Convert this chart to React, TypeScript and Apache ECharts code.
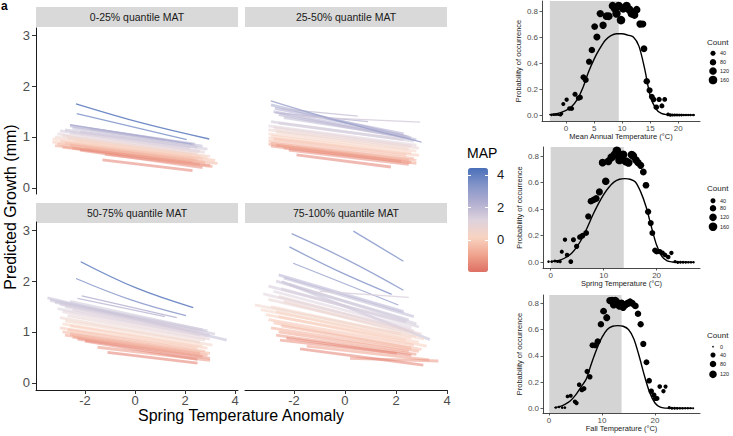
import React, { useEffect, useRef } from 'react';
import * as echarts from 'echarts';

const FONT = '"Liberation Sans", Arial, Helvetica, sans-serif';

const FACET_TITLES = ['0-25% quantile MAT', '25-50% quantile MAT', '50-75% quantile MAT', '75-100% quantile MAT'];
const X_TICKS_ANOM = [-2, 0, 2, 4];
const Y_TICKS_GROWTH = [0, 1, 2, 3];
const MAP_TICKS = [0, 2, 4];
const PROB_TICKS = [0, 0.2, 0.4, 0.6, 0.8];
const MAT_TICKS = [0, 5, 10, 15, 20];
const SEASON_TICKS = [0, 10, 20];
const MAP_COLORS = ['#de6f63', '#f0a48f', '#f8d3c1', '#ddd2dd', '#b1aed0', '#8495c9', '#4a6fb9'];

// band lines (many overlapping sites): [MAP, x0, y0, x1, y1]
const LINES_Q1 = [
  [2.3, -2.6, 1.22, 2.4, 0.86],
  [2.0, -2.5, 1.18, 2.7, 0.82],
  [1.9, -1.8, 1.16, 1.2, 0.94],
  [1.8, -2.8, 1.14, 2.5, 0.8],
  [1.6, -2.2, 1.1, 2.9, 0.76],
  [1.5, -3.0, 1.12, 2.2, 0.78],
  [1.3, -2.6, 1.08, 2.6, 0.72],
  [1.0, -3.1, 1.06, 2.8, 0.7],
  [0.8, -2.9, 1.02, 2.5, 0.68],
  [0.6, -3.2, 1.0, 2.3, 0.66],
  [0.4, -2.7, 0.98, 3.0, 0.62],
  [0.3, -3.3, 0.96, 2.6, 0.62],
  [0.2, -2.4, 0.93, 2.9, 0.6],
  [0.0, -3.0, 0.92, 2.7, 0.58],
  [-0.1, -3.3, 0.9, 2.4, 0.57],
  [-0.3, -2.8, 0.88, 3.2, 0.54],
  [-0.4, -3.1, 0.86, 2.5, 0.54],
  [-0.5, -2.0, 0.78, 3.3, 0.48],
  [-0.6, -2.6, 0.84, 2.8, 0.5],
  [-0.8, -3.2, 0.83, 2.3, 0.5],
  [-1.0, -2.9, 0.8, 2.6, 0.46],
  [-1.0, -1.2, 0.66, 3.1, 0.42],
  [-1.2, -2.5, 0.78, 3.0, 0.44],
  [-1.4, -2.2, 0.74, 2.7, 0.4],
  [-1.6, -1.3, 0.55, 2.3, 0.34],
];
// isolated straight lines: [MAP, x0, y0, x1, y1]
const SINGLE_Q1 = [
  [3.6, -2.33, 1.46, 2.07, 0.95],
  [2.5, -2.6, 1.24, 2.3, 0.86],
];
// isolated curved lines: [MAP, x0, y0, xm, ym, x1, y1]
const CURVES_Q1 = [[4.2, -2.36, 1.65, 0.31, 1.27, 2.97, 0.96]];

const LINES_Q2 = [
  [2.6, -2.9, 1.63, 2.4, 1.01],
  [2.4, -2.75, 1.56, 2.3, 1.06],
  [2.2, -2.8, 1.5, 2.6, 0.98],
  [2.1, -2.6, 1.44, 2.8, 0.95],
  [1.9, -2.4, 1.38, 2.5, 1.0],
  [1.6, -2.9, 1.3, 2.7, 0.92],
  [1.4, -2.6, 1.27, 2.3, 0.95],
  [1.1, -3.0, 1.22, 2.8, 0.84],
  [0.9, -2.8, 1.18, 2.6, 0.82],
  [0.7, -3.0, 1.14, 2.9, 0.78],
  [0.5, -2.7, 1.1, 2.5, 0.76],
  [0.3, -3.0, 1.06, 2.8, 0.72],
  [0.1, -2.9, 1.02, 2.6, 0.68],
  [0.0, -3.0, 0.98, 2.9, 0.64],
  [-0.2, -2.8, 0.96, 2.4, 0.64],
  [-0.4, -3.0, 0.92, 2.7, 0.58],
  [-0.6, -2.9, 0.88, 2.8, 0.54],
  [-0.8, -3.0, 0.86, 2.5, 0.54],
  [-0.9, -2.4, 0.78, 2.8, 0.48],
  [-1.0, -2.7, 0.84, 2.6, 0.5],
  [-1.2, -2.9, 0.82, 2.2, 0.52],
  [-1.4, -2.2, 0.74, 2.5, 0.46],
  [-1.6, -1.9, 0.65, 1.8, 0.41],
];
const SINGLE_Q2 = [
  [2.0, -2.75, 1.48, 0.9, 1.3],
  [1.8, -2.5, 1.55, 0.5, 1.41],
  [1.5, -1.8, 1.4, 2.95, 1.29],
];
const CURVES_Q2 = [[2.8, -2.91, 1.71, 0.07, 1.27, 3.0, 0.9]];

const LINES_Q3 = [
  [1.9, -3.5, 1.67, 3.67, 0.84],
  [1.8, -3.4, 1.62, 2.9, 1.02],
  [1.7, -3.2, 1.58, 3.2, 0.96],
  [1.6, -2.6, 1.6, 2.7, 1.04],
  [1.5, -3.0, 1.54, 3.0, 0.94],
  [1.4, -2.8, 1.5, 2.5, 1.0],
  [1.3, -3.1, 1.46, 2.9, 0.92],
  [1.2, -2.5, 1.44, 2.6, 0.94],
  [1.0, -2.9, 1.4, 3.0, 0.86],
  [0.8, -2.7, 1.32, 2.8, 0.84],
  [0.6, -3.0, 1.28, 2.6, 0.8],
  [0.4, -2.8, 1.22, 3.1, 0.74],
  [0.2, -2.9, 1.16, 2.7, 0.72],
  [0.1, -2.6, 1.12, 2.9, 0.68],
  [-0.1, -3.0, 1.08, 2.5, 0.68],
  [-0.3, -2.7, 1.04, 2.8, 0.62],
  [-0.5, -2.9, 1.0, 3.0, 0.58],
  [-0.7, -2.6, 0.96, 2.6, 0.58],
  [-0.9, -2.8, 0.94, 2.9, 0.54],
  [-1.1, -2.5, 0.9, 2.7, 0.52],
  [-1.2, -1.5, 0.7, 3.0, 0.44],
  [-1.3, -2.3, 0.86, 3.0, 0.48],
  [-1.5, -2.0, 0.82, 2.5, 0.46],
  [-1.7, -1.1, 0.6, 2.5, 0.39],
];
const SINGLE_Q3 = [
  [2.3, -2.13, 1.71, 1.67, 1.28],
  [2.1, -2.3, 1.66, 1.2, 1.3],
];
const CURVES_Q3 = [
  [4.2, -2.17, 2.38, 0.07, 1.86, 2.33, 1.48],
  [3.3, -2.36, 2.05, -0.16, 1.63, 2.04, 1.32],
];

const LINES_Q4 = [
  [2.2, -2.6, 2.12, 2.3, 1.4],
  [2.0, -2.4, 2.06, 2.7, 1.3],
  [1.9, -2.48, 1.99, 3.33, 0.85],
  [1.7, -2.7, 2.0, 2.5, 1.24],
  [1.6, -2.2, 1.94, 2.8, 1.16],
  [1.5, -3.0, 1.9, 2.4, 1.2],
  [1.4, -2.5, 1.85, 2.9, 1.1],
  [1.2, -2.8, 1.8, 2.6, 1.08],
  [1.1, -3.2, 1.75, 2.7, 1.02],
  [0.9, -2.6, 1.7, 3.0, 0.96],
  [0.8, -3.0, 1.64, 2.5, 1.0],
  [0.6, -2.4, 1.6, 2.8, 0.92],
  [0.5, -3.53, 1.53, 2.2, 0.96],
  [0.4, -2.9, 1.5, 3.1, 0.86],
  [0.3, -3.3, 1.44, 2.6, 0.88],
  [0.2, -2.7, 1.4, 2.9, 0.8],
  [0.1, -3.1, 1.34, 2.4, 0.84],
  [0.0, -2.6, 1.3, 3.2, 0.72],
  [-0.2, -3.0, 1.24, 2.7, 0.74],
  [-0.3, -2.8, 1.18, 3.0, 0.66],
  [-0.5, -2.5, 1.12, 2.6, 0.68],
  [-0.7, -2.9, 1.08, 2.9, 0.62],
  [-0.9, -2.6, 1.0, 2.5, 0.62],
  [-1.0, -1.5, 0.72, 3.3, 0.45],
  [-1.1, -2.7, 0.94, 2.8, 0.56],
  [-1.2, 0.2, 0.48, 3.66, 0.43],
  [-1.3, -2.55, 0.84, 2.03, 0.58],
  [-1.5, -2.3, 0.88, 2.6, 0.54],
  [-1.6, -1.76, 0.67, 3.07, 0.35],
];
const SINGLE_Q4 = [
  [3.5, 0.33, 2.98, 2.29, 2.39],
  [2.9, -2.03, 2.35, 2.09, 1.53],
  [1.3, -1.0, 1.8, 2.5, 1.68],
];
const CURVES_Q4 = [
  [3.2, -2.09, 2.93, 0.07, 2.42, 2.29, 1.82],
  [3.3, -2.18, 2.67, -0.2, 2.18, 1.83, 1.74],
];

// [temperature, probability, count]
const MAT_POINTS = [
  [-2.6, 0, 3], [-2.2, 0.002, 4], [-1.8, 0.003, 5], [-1.4, 0.004, 6], [-1.0, 0, 8], [-0.8, 0.01, 10],
  [-0.5, 0.085, 20], [0.1, 0.118, 25], [0.6, 0.05, 30], [1.0, 0.05, 35], [1.6, 0.16, 40], [2.2, 0.13, 45],
  [2.5, 0.135, 50], [3.1, 0.29, 60], [3.5, 0.27, 65], [4.1, 0.41, 70], [4.6, 0.5, 80], [5.1, 0.68, 90],
  [5.5, 0.6, 100], [6.1, 0.78, 110], [6.6, 0.69, 110], [7.2, 0.76, 120], [7.6, 0.76, 130], [8.3, 0.84, 130],
  [8.7, 0.82, 140], [9.0, 0.78, 150], [9.4, 0.84, 150], [9.8, 0.73, 160], [10.2, 0.82, 160], [10.8, 0.84, 150],
  [11.3, 0.81, 150], [11.7, 0.78, 140], [12.2, 0.77, 130], [12.6, 0.81, 120], [13.2, 0.7, 110], [13.7, 0.7, 100],
  [13.9, 0.51, 90], [14.4, 0.26, 80], [14.9, 0.19, 70], [15.3, 0.14, 60], [15.6, 0.12, 55], [16.1, 0.06, 50],
  [16.6, 0.12, 45], [17.1, 0.07, 40], [17.6, 0.12, 35],
  [18.2, 0.005, 15], [18.6, 0, 10], [19.0, 0, 8], [19.4, 0, 6], [19.8, 0, 5], [20.2, 0, 4], [20.6, 0, 4],
  [21.0, 0, 3], [21.4, 0, 3], [21.8, 0, 2], [22.2, 0, 2], [22.7, 0, 2],
];
const SPRING_POINTS = [
  [-0.4, 0.005, 3], [0.2, 0.005, 4], [0.8, 0.01, 5], [1.3, 0.005, 6], [1.8, 0.005, 8],
  [2.1, 0.08, 20], [2.7, 0.17, 25], [3.1, 0.055, 30], [3.8, 0.005, 35], [4.3, 0.17, 40], [4.9, 0.12, 45],
  [5.5, 0.19, 50], [6.0, 0.2, 55], [6.7, 0.22, 60], [7.1, 0.345, 70], [7.6, 0.46, 80], [8.1, 0.47, 85],
  [8.6, 0.48, 90], [9.2, 0.53, 100], [9.8, 0.75, 120], [10.4, 0.61, 120], [10.9, 0.76, 130], [11.5, 0.79, 140],
  [12.1, 0.81, 150], [12.5, 0.84, 160], [13.0, 0.77, 160], [13.4, 0.8, 160], [13.7, 0.81, 150], [14.2, 0.76, 150],
  [14.7, 0.75, 140], [15.3, 0.81, 140], [15.6, 0.8, 130], [16.1, 0.77, 120], [16.5, 0.75, 110], [17.0, 0.73, 100],
  [17.5, 0.68, 90], [18.0, 0.58, 85], [18.4, 0.38, 75], [18.9, 0.295, 65], [19.2, 0.22, 60], [19.7, 0.09, 55],
  [20.0, 0.08, 50], [20.6, 0.08, 45], [21.1, 0.07, 40], [21.6, 0.055, 35], [22.2, 0.04, 30], [22.8, 0.07, 25],
  [23.5, 0.005, 10], [24.0, 0, 8], [24.5, 0, 6], [25.0, 0, 5], [25.5, 0, 4], [26.0, 0, 3], [26.5, 0, 3], [27.0, 0, 2],
];
const FALL_POINTS = [
  [1.3, 0.005, 2], [1.9, 0.01, 3], [2.5, 0.005, 4], [3.0, 0.005, 5],
  [3.5, 0.09, 15], [4.1, 0.095, 20], [4.9, 0.05, 25], [5.2, 0.04, 25], [5.7, 0.18, 30], [6.2, 0.14, 35],
  [6.6, 0.15, 40], [7.2, 0.28, 45], [7.7, 0.24, 50], [8.2, 0.48, 60], [8.7, 0.48, 65], [9.2, 0.51, 70],
  [9.8, 0.64, 80], [10.3, 0.74, 90], [10.9, 0.69, 100], [11.5, 0.82, 110], [11.9, 0.82, 120], [12.2, 0.79, 120],
  [12.5, 0.82, 120], [12.8, 0.81, 120], [13.3, 0.78, 120], [13.7, 0.8, 120], [14.0, 0.77, 110], [14.5, 0.79, 110],
  [14.9, 0.8, 110], [15.3, 0.81, 100], [15.7, 0.8, 100], [16.3, 0.78, 90], [16.8, 0.72, 80], [17.3, 0.64, 75],
  [17.8, 0.49, 70], [18.4, 0.35, 60], [18.9, 0.21, 55], [19.3, 0.13, 50], [19.8, 0.1, 45], [20.1, 0.075, 40],
  [20.4, 0.075, 35], [20.9, 0.165, 30], [21.6, 0.13, 25], [22.0, 0.165, 20],
  [22.7, 0.005, 8], [23.2, 0, 6], [23.7, 0, 5], [24.2, 0, 4], [24.7, 0, 3], [25.2, 0, 3], [25.7, 0, 2],
  [26.2, 0, 2], [26.7, 0, 1], [27.2, 0, 1],
];

// fitted curves [temperature, probability]
const MAT_CURVE = [
  [-3, 0.003], [-2, 0.008], [-1, 0.018], [0, 0.035], [1, 0.065], [2, 0.12], [3, 0.21], [4, 0.33], [5, 0.43],
  [6, 0.51], [7, 0.575], [8, 0.61], [9, 0.625], [10, 0.625], [11, 0.615], [12, 0.6], [13, 0.53], [14, 0.36],
  [15, 0.15], [16, 0.05], [17, 0.012], [18, 0.002], [19, 0], [23, 0],
];
const SPRING_CURVE = [
  [0, 0.005], [1, 0.01], [2, 0.02], [3, 0.04], [4, 0.07], [5, 0.12], [6, 0.185], [7, 0.27], [8, 0.36], [9, 0.44],
  [10, 0.51], [11, 0.565], [12, 0.605], [13, 0.625], [14, 0.63], [15, 0.625], [16, 0.605], [17, 0.53], [18, 0.42],
  [19, 0.27], [20, 0.13], [21, 0.045], [22, 0.01], [23, 0.002], [24, 0], [27, 0],
];
const FALL_CURVE = [
  [1, 0.005], [2, 0.012], [3, 0.03], [4, 0.055], [5, 0.1], [6, 0.16], [7, 0.22], [8, 0.34], [9, 0.45], [10, 0.54],
  [11, 0.6], [12, 0.625], [13, 0.63], [14, 0.625], [15, 0.6], [16, 0.53], [17, 0.4], [18, 0.25], [19, 0.12],
  [20, 0.04], [21, 0.008], [22, 0.001], [23, 0], [27, 0],
];
const SHADE_RANGES = [[-2.9, 9.4], [0, 13.8], [0.05, 13.7]];
const X_TITLES = ['Mean Annual Temperature (°C)', 'Spring Temperature (°C)', 'Fall Temperature (°C)'];
const LEGEND_COUNTS = [[40, 80, 120, 160], [40, 80, 120, 160], [0, 40, 80, 120]];

const sizeOf = (c: number) => 1.6 + 0.55 * Math.sqrt(c);

const makeStraight = (lineWidth: number, opacity: number) => (params: any, api: any) => {
  const p0 = api.coord([api.value(1), api.value(2)]);
  const p1 = api.coord([api.value(3), api.value(4)]);
  return {
    type: 'line',
    shape: { x1: p0[0], y1: p0[1], x2: p1[0], y2: p1[1] },
    style: { stroke: api.visual('color'), lineWidth, opacity, lineCap: 'butt' },
  };
};
const renderCurve = (params: any, api: any) => {
  const p0 = api.coord([api.value(1), api.value(2)]);
  const pm = api.coord([api.value(3), api.value(4)]);
  const p1 = api.coord([api.value(5), api.value(6)]);
  return {
    type: 'polyline',
    shape: { points: [p0, pm, p1], smooth: 0.4 },
    style: { stroke: api.visual('color'), fill: 'none', lineWidth: 1.3, opacity: 0.85 },
  };
};

export default function App() {
  const ref = useRef<HTMLDivElement>(null);
  useEffect(() => {
    if (!ref.current) return;
    const chart = echarts.init(ref.current, undefined, { renderer: 'svg' });

    const leftGrids = [
      { left: 36, top: 28, width: 202, height: 166 },
      { left: 245, top: 28, width: 202, height: 166 },
      { left: 36, top: 222, width: 202, height: 168 },
      { left: 245, top: 222, width: 202, height: 168 },
    ];
    const rightGrids = [
      { left: 542, top: 1, width: 158, height: 120 },
      { left: 543, top: 147, width: 157, height: 121 },
      { left: 543, top: 295, width: 157, height: 118 },
    ];
    const cbGrid = { left: 468, top: 168, width: 20, height: 104 };
    const grids = [...leftGrids, ...rightGrids, cbGrid].map((g) => ({ ...g, outerBoundsMode: 'none' }));

    const leftX = [[-3.96, 4.12], [-3.92, 4.0], [-3.96, 4.12], [-3.92, 4.0]];
    const leftY = [[-0.12, 3.14], [-0.12, 3.14], [-0.14, 3.16], [-0.14, 3.16]];
    const rightX = [[-4.3, 23.9], [-1.45, 28.2], [-1.13, 28.5]];
    const rightY = [[-0.046, 0.877], [-0.043, 0.868], [-0.036, 0.863]];

    const xAxis: any[] = [];
    const yAxis: any[] = [];
    for (let i = 0; i < 4; i++) {
      const showX = i >= 2;
      const showY = i === 0 || i === 2;
      xAxis.push({
        type: 'value', gridIndex: i, min: leftX[i][0], max: leftX[i][1], show: showX, position: 'bottom',
        splitLine: { show: false },
        axisLine: { show: true, onZero: false, lineStyle: { color: '#1a1a1a', width: 1 } },
        axisTick: { show: true, length: 4, customValues: X_TICKS_ANOM, lineStyle: { color: '#333' } },
        axisLabel: { customValues: X_TICKS_ANOM, fontSize: 13, color: '#4d4d4d', fontFamily: FONT, margin: 4 },
      });
      yAxis.push({
        type: 'value', gridIndex: i, min: leftY[i][0], max: leftY[i][1], show: showY, position: 'left',
        splitLine: { show: false },
        axisLine: { show: true, onZero: false, lineStyle: { color: '#1a1a1a', width: 1 } },
        axisTick: { show: true, length: 4, customValues: Y_TICKS_GROWTH, lineStyle: { color: '#333' } },
        axisLabel: { customValues: Y_TICKS_GROWTH, fontSize: 13, color: '#4d4d4d', fontFamily: FONT, margin: 6 },
      });
    }
    for (let j = 0; j < 3; j++) {
      xAxis.push({
        type: 'value', gridIndex: 4 + j, min: rightX[j][0], max: rightX[j][1], position: 'bottom',
        name: X_TITLES[j], nameLocation: 'middle', nameGap: 11,
        nameTextStyle: { fontSize: 7.5, color: '#1a1a1a', fontFamily: FONT },
        splitLine: { show: false },
        axisLine: { onZero: false, lineStyle: { color: '#1a1a1a', width: 0.8 } },
        axisTick: { length: 2.5, customValues: j === 0 ? MAT_TICKS : SEASON_TICKS, lineStyle: { color: '#333', width: 0.8 } },
        axisLabel: { customValues: j === 0 ? MAT_TICKS : SEASON_TICKS, fontSize: 8, color: '#4d4d4d', fontFamily: FONT, margin: 3 },
      });
      yAxis.push({
        type: 'value', gridIndex: 4 + j, min: rightY[j][0], max: rightY[j][1], position: 'left',
        name: 'Probability of occurrence', nameLocation: 'middle', nameGap: 12,
        nameTextStyle: { fontSize: 7.5, color: '#1a1a1a', fontFamily: FONT },
        splitLine: { show: false },
        axisLine: { show: true, onZero: false, lineStyle: { color: '#1a1a1a', width: 0.8 } },
        axisTick: { show: true, length: 2.5, customValues: PROB_TICKS, lineStyle: { color: '#333', width: 0.8 } },
        axisLabel: { customValues: PROB_TICKS, formatter: (v: number) => v.toFixed(1), fontSize: 8, color: '#4d4d4d', fontFamily: FONT, margin: 4 },
      });
    }
    // colourbar axes
    xAxis.push({ type: 'value', gridIndex: 7, min: 0, max: 1, show: false });
    yAxis.push({
      type: 'value', gridIndex: 7, min: -1.97, max: 4.43, position: 'right', z: 10,
      splitLine: { show: false }, axisLine: { show: false, onZero: false },
      axisTick: { show: true, inside: true, length: 3, customValues: MAP_TICKS, lineStyle: { color: '#ffffff', width: 1 } },
      axisLabel: { customValues: MAP_TICKS, fontSize: 13, color: '#1a1a1a', fontFamily: FONT, margin: 9 },
    });
    yAxis.push({
      type: 'value', gridIndex: 7, min: -1.97, max: 4.43, position: 'left', z: 10,
      splitLine: { show: false }, axisLine: { show: false, onZero: false },
      axisTick: { show: true, inside: true, length: 3, customValues: MAP_TICKS, lineStyle: { color: '#ffffff', width: 1 } },
      axisLabel: { show: false },
    });

    const lineSets = [LINES_Q1, LINES_Q2, LINES_Q3, LINES_Q4];
    const singleSets = [SINGLE_Q1, SINGLE_Q2, SINGLE_Q3, SINGLE_Q4];
    const curveSets = [CURVES_Q1, CURVES_Q2, CURVES_Q3, CURVES_Q4];
    const series: any[] = [];
    const bandRender = makeStraight(2.8, 0.55);
    const singleRender = makeStraight(1.3, 0.8);
    for (let i = 0; i < 4; i++) {
      series.push({
        type: 'custom', xAxisIndex: i, yAxisIndex: i, data: lineSets[i], renderItem: bandRender,
        encode: { x: [1, 3], y: [2, 4] }, silent: true, z: 2,
      });
    }
    for (let i = 0; i < 4; i++) {
      series.push({
        type: 'custom', xAxisIndex: i, yAxisIndex: i, data: singleSets[i], renderItem: singleRender,
        encode: { x: [1, 3], y: [2, 4] }, silent: true, z: 3,
      });
    }
    for (let i = 0; i < 4; i++) {
      series.push({
        type: 'custom', xAxisIndex: i, yAxisIndex: i, data: curveSets[i], renderItem: renderCurve,
        encode: { x: [1, 3, 5], y: [2, 4, 6] }, silent: true, z: 3,
      });
    }
    const pointSets = [MAT_POINTS, SPRING_POINTS, FALL_POINTS];
    const curves = [MAT_CURVE, SPRING_CURVE, FALL_CURVE];
    for (let j = 0; j < 3; j++) {
      series.push({
        type: 'line', xAxisIndex: 4 + j, yAxisIndex: 4 + j, data: [], z: 1, silent: true,
        markArea: {
          silent: true, itemStyle: { color: '#d4d4d4', opacity: 1 },
          data: [[{ xAxis: SHADE_RANGES[j][0] }, { xAxis: SHADE_RANGES[j][1] }]],
        },
      });
      series.push({
        type: 'scatter', xAxisIndex: 4 + j, yAxisIndex: 4 + j, data: pointSets[j], z: 3, silent: true,
        symbolSize: (v: number[]) => sizeOf(v[2]),
        itemStyle: { color: '#000000', opacity: 1 },
      });
      series.push({
        type: 'line', xAxisIndex: 4 + j, yAxisIndex: 4 + j, data: curves[j], z: 4, silent: true,
        showSymbol: false, smooth: 0.3, lineStyle: { color: '#000000', width: 1.4 },
      });
    }

    const graphic: any[] = [];
    FACET_TITLES.forEach((t, i) => {
      const g = leftGrids[i];
      const top = i < 2 ? 7 : 203;
      graphic.push({ type: 'rect', shape: { x: g.left, y: top, width: 202, height: 20 }, style: { fill: '#d9d9d9' }, silent: true });
      graphic.push({
        type: 'text', x: g.left + 101, y: top + 10,
        style: { text: t, fontSize: 10.5, fontFamily: FONT, fill: '#1a1a1a', align: 'center', verticalAlign: 'middle' }, silent: true,
      });
    });
    graphic.push({ type: 'text', x: 1, y: 0, style: { text: 'a', fontSize: 12, fontWeight: 'bold', fontFamily: FONT, fill: '#000', verticalAlign: 'top' } });
    graphic.push({
      type: 'text', x: 10, y: 207, rotation: Math.PI / 2,
      style: { text: 'Predicted Growth (mm)', fontSize: 16, fontFamily: FONT, fill: '#000', align: 'center', verticalAlign: 'middle' },
    });
    graphic.push({
      type: 'text', x: 241, y: 415,
      style: { text: 'Spring Temperature Anomaly', fontSize: 16, fontFamily: FONT, fill: '#000', align: 'center', verticalAlign: 'middle' },
    });
    graphic.push({
      type: 'text', x: 467, y: 153,
      style: { text: 'MAP', fontSize: 14, fontFamily: FONT, fill: '#000', align: 'left', verticalAlign: 'middle' },
    });
    const legendTitleY = [42, 188, 335];
    const legendItemY = [[53.3, 62.3, 71, 80], [200.7, 208.3, 217.3, 226.7], [346.7, 355, 364, 374.3]];
    for (let j = 0; j < 3; j++) {
      graphic.push({
        type: 'text', x: 707, y: legendTitleY[j],
        style: { text: 'Count', fontSize: 8, fontFamily: FONT, fill: '#1a1a1a', align: 'left', verticalAlign: 'middle' },
      });
      LEGEND_COUNTS[j].forEach((c, k) => {
        graphic.push({ type: 'circle', shape: { cx: 713, cy: legendItemY[j][k], r: sizeOf(c) / 2 }, style: { fill: '#000' } });
        graphic.push({
          type: 'text', x: 720, y: legendItemY[j][k],
          style: { text: String(c), fontSize: 5.5, fontFamily: FONT, fill: '#1a1a1a', align: 'left', verticalAlign: 'middle' },
        });
      });
    }

    chart.setOption({
      animation: false,
      backgroundColor: '#ffffff',
      textStyle: { fontFamily: FONT },
      grid: grids,
      xAxis,
      yAxis,
      visualMap: {
        type: 'continuous', min: -1.97, max: 4.43, dimension: 0,
        seriesIndex: [0, 1, 2, 3, 4, 5, 6, 7, 8, 9, 10, 11],
        inRange: { color: MAP_COLORS },
        left: 468, top: 168, itemWidth: 20, itemHeight: 104, padding: 0,
        calculable: false, hoverLink: false, show: true,
      },
      series,
      graphic,
    });
    return () => chart.dispose();
  }, []);
  return <div ref={ref} style={{ position: 'absolute', left: 0, top: 0, width: 733, height: 436 }} />;
}
